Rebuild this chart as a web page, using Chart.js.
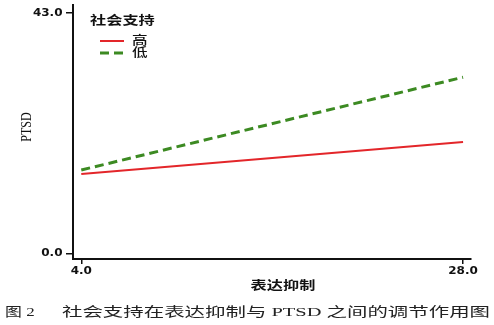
<!DOCTYPE html>
<html>
<head>
<meta charset="utf-8">
<script src="https://cdn.jsdelivr.net/npm/chart.js@4.4.1/dist/chart.umd.min.js"></script>
<style>
html,body{margin:0;padding:0;background:#fff;}
canvas{display:block;}
</style>
</head>
<body>
<canvas id="c" width="494" height="325"></canvas>
<script>
// 数据
const xValues = [4, 28];               // 表达抑制
const highSupport = [14.2, 19.9];      // 社会支持 高
const lowSupport = [14.9, 31.5];       // 社会支持 低
const xTickValues = [4, 28];
const yTickValues = [0, 43];
const seriesNames = ['高', '低'];
const legendTitle = '社会支持';
const xTitle = '表达抑制';
const yTitle = 'PTSD';
const captionLead = '图 2';
const captionText = '社会支持在表达抑制与 PTSD 之间的调节作用图';

const RED = '#e3262a';
const GREEN = '#3c8a22';

function stretchText(ctx, text, x, y, align, sx, font, color) {
  ctx.save();
  ctx.font = font;
  ctx.fillStyle = color || '#111';
  ctx.textBaseline = 'middle';
  const w = ctx.measureText(text).width * sx;
  let left = x;
  if (align === 'center') left = x - w / 2;
  else if (align === 'right') left = x - w;
  ctx.translate(left, y);
  ctx.scale(sx, 1);
  ctx.textAlign = 'left';
  ctx.fillText(text, 0, 0);
  ctx.restore();
}

const textPlugin = {
  id: 'texts',
  afterDraw(chart) {
    const ctx = chart.ctx;
    const xs = chart.scales.x, ys = chart.scales.y;
    const tickFont = 'bold 10px "DejaVu Sans"';
    yTickValues.forEach(v => {
      stretchText(ctx, v.toFixed(1), xs.left - 10.5, ys.getPixelForValue(v) + 0.5, 'right', 1.2, tickFont);
    });
    xTickValues.forEach(v => {
      stretchText(ctx, v.toFixed(1), xs.getPixelForValue(v), 271, 'center', 1.2, tickFont);
    });
    // y title
    ctx.save();
    ctx.translate(27, 127);
    ctx.rotate(-Math.PI / 2);
    ctx.scale(1, 1.3);
    ctx.font = '12px "Liberation Serif"';
    ctx.fillStyle = '#111';
    ctx.textAlign = 'center';
    ctx.textBaseline = 'middle';
    ctx.fillText(yTitle, 0, 0);
    ctx.restore();
    // x title
    stretchText(ctx, xTitle, 283, 285, 'center', 1.35, 'bold 12px "Noto Sans CJK SC"');
    // legend
    stretchText(ctx, legendTitle, 90, 20, 'left', 1.35, 'bold 12px "Noto Sans CJK SC"');
    const ds = chart.data.datasets;
    const rows = [41, 53];
    ds.forEach((d, i) => {
      ctx.save();
      ctx.strokeStyle = d.borderColor;
      ctx.lineWidth = d.borderWidth;
      ctx.setLineDash(d.borderDash || []);
      ctx.beginPath();
      ctx.moveTo(100, rows[i]);
      ctx.lineTo(124, rows[i]);
      ctx.stroke();
      ctx.restore();
      stretchText(ctx, d.label, 132, rows[i] - 1, 'left', 1.3, '500 12px "Noto Sans CJK SC"');
    });
    // caption
    const capFont = '13px "Liberation Serif", "Noto Sans CJK SC"';
    stretchText(ctx, captionLead, 5, 313, 'left', 1.3, capFont, '#222');
    ctx.save();
    ctx.font = capFont;
    const w = ctx.measureText(captionText).width;
    ctx.restore();
    const sx = (490 - 62) / w;
    stretchText(ctx, captionText, 62, 313, 'left', sx, capFont, '#222');
  }
};

new Chart(document.getElementById('c'), {
  type: 'line',
  data: {
    datasets: [
      {
        label: seriesNames[0],
        data: xValues.map((x, i) => ({x: x, y: highSupport[i]})),
        borderColor: RED,
        borderWidth: 2,
        pointRadius: 0,
        tension: 0
      },
      {
        label: seriesNames[1],
        data: xValues.map((x, i) => ({x: x, y: lowSupport[i]})),
        borderColor: GREEN,
        borderWidth: 3,
        borderDash: [9, 5],
        pointRadius: 0,
        tension: 0
      }
    ]
  },
  options: {
    responsive: false,
    animation: false,
    layout: {padding: {left: 0, right: 23, top: 5, bottom: 0}},
    plugins: {legend: {display: false}, tooltip: {enabled: false}, title: {display: false}},
    scales: {
      x: {
        type: 'linear',
        min: 3.48,
        max: 28.5,
        afterBuildTicks: s => { s.ticks = xTickValues.map(v => ({value: v})); },
        afterFit: s => { s.height = 66; },
        ticks: {display: false},
        grid: {display: true, drawOnChartArea: false, drawTicks: true, tickLength: 5, color: '#111', lineWidth: 1.5},
        border: {display: true, color: '#111', width: 2}
      },
      y: {
        type: 'linear',
        min: -1.02,
        max: 44.43,
        afterBuildTicks: s => { s.ticks = yTickValues.map(v => ({value: v})); },
        afterFit: s => { s.width = 73; },
        ticks: {display: false},
        grid: {display: true, drawOnChartArea: false, drawTicks: true, tickLength: 7, color: '#111', lineWidth: 1.5},
        border: {display: true, color: '#111', width: 2}
      }
    }
  },
  plugins: [textPlugin]
});
</script>
</body>
</html>
